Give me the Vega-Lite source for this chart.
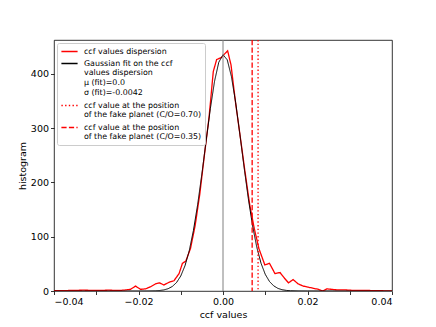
{
  "$schema": "https://vega.github.io/schema/vega-lite/v6.json",
  "width": 338,
  "height": 251,
  "autosize": {"type": "none"},
  "padding": {"left": 54, "top": 40, "right": 44, "bottom": 36},
  "background": "white",
  "config": {
    "font": "DejaVu Sans",
    "view": {"stroke": "black", "strokeWidth": 0.8},
    "axis": {
      "domain": false,
      "grid": false,
      "tickColor": "black",
      "tickSize": 3.5,
      "tickWidth": 0.8,
      "labelColor": "black",
      "labelFont": "DejaVu Sans",
      "labelFontSize": 9.5,
      "labelPadding": 2,
      "titleFont": "DejaVu Sans",
      "titleFontSize": 9.5,
      "titleFontWeight": "normal",
      "titleColor": "black"
    },
    "legend": {
      "labelFont": "DejaVu Sans",
      "labelFontSize": 7.9,
      "labelColor": "black"
    }
  },
  "datasets": {
    "hist": [
      {"x": -0.042, "y": 1}, {"x": -0.039, "y": 0.5}, {"x": -0.036, "y": 1}, {"x": -0.033, "y": 1.5},
      {"x": -0.030, "y": 1}, {"x": -0.027, "y": 1.5}, {"x": -0.0245, "y": 1}, {"x": -0.023, "y": 2},
      {"x": -0.0219, "y": 3}, {"x": -0.0207, "y": 9}, {"x": -0.0195, "y": 3}, {"x": -0.0183, "y": 4},
      {"x": -0.0171, "y": 8}, {"x": -0.016, "y": 13}, {"x": -0.015, "y": 15}, {"x": -0.014, "y": 11},
      {"x": -0.0128, "y": 16}, {"x": -0.0116, "y": 19}, {"x": -0.0104, "y": 32}, {"x": -0.0096, "y": 51},
      {"x": -0.0088, "y": 55}, {"x": -0.0077, "y": 78}, {"x": -0.0066, "y": 120}, {"x": -0.0055, "y": 178},
      {"x": -0.0044, "y": 250}, {"x": -0.0033, "y": 320}, {"x": -0.0023, "y": 404}, {"x": -0.0015, "y": 426},
      {"x": -0.0003, "y": 430}, {"x": 0.0002, "y": 435}, {"x": 0.0011, "y": 442}, {"x": 0.0019, "y": 416},
      {"x": 0.003, "y": 345}, {"x": 0.0041, "y": 283}, {"x": 0.0052, "y": 220}, {"x": 0.0063, "y": 160},
      {"x": 0.0074, "y": 115}, {"x": 0.0085, "y": 78}, {"x": 0.0099, "y": 48}, {"x": 0.011, "y": 51},
      {"x": 0.0123, "y": 32}, {"x": 0.0135, "y": 34}, {"x": 0.0145, "y": 24}, {"x": 0.0155, "y": 15},
      {"x": 0.0166, "y": 21}, {"x": 0.0178, "y": 13}, {"x": 0.019, "y": 9}, {"x": 0.0202, "y": 7},
      {"x": 0.0214, "y": 5}, {"x": 0.0226, "y": 3}, {"x": 0.0236, "y": 0}, {"x": 0.0246, "y": 4},
      {"x": 0.0258, "y": 3}, {"x": 0.027, "y": 2}, {"x": 0.029, "y": 2}, {"x": 0.031, "y": 1},
      {"x": 0.034, "y": 1}, {"x": 0.037, "y": 0.5}, {"x": 0.042, "y": 0}
    ],
    "gauss": [
      {"x": -0.042, "y": 0}, {"x": -0.03, "y": 0}, {"x": -0.02, "y": 0.01}, {"x": -0.018, "y": 0.07},
      {"x": -0.016, "y": 0.39}, {"x": -0.015, "y": 0.91}, {"x": -0.014, "y": 2.0}, {"x": -0.013, "y": 4.2},
      {"x": -0.012, "y": 8.3}, {"x": -0.011, "y": 15.5}, {"x": -0.01, "y": 27.6}, {"x": -0.009, "y": 46.4},
      {"x": -0.008, "y": 73.8}, {"x": -0.007, "y": 111.3}, {"x": -0.006, "y": 159.1}, {"x": -0.005, "y": 215.3},
      {"x": -0.004, "y": 276.1}, {"x": -0.003, "y": 335.4}, {"x": -0.002, "y": 386.1}, {"x": -0.001, "y": 421.0},
      {"x": 0.0, "y": 434.9}, {"x": 0.001, "y": 425.6}, {"x": 0.002, "y": 394.6}, {"x": 0.003, "y": 346.5},
      {"x": 0.004, "y": 288.3}, {"x": 0.005, "y": 227.2}, {"x": 0.006, "y": 169.7}, {"x": 0.007, "y": 120.1},
      {"x": 0.008, "y": 80.5}, {"x": 0.009, "y": 51.1}, {"x": 0.01, "y": 30.7}, {"x": 0.011, "y": 17.5},
      {"x": 0.012, "y": 9.5}, {"x": 0.013, "y": 4.8}, {"x": 0.014, "y": 2.3}, {"x": 0.015, "y": 1.07},
      {"x": 0.016, "y": 0.47}, {"x": 0.018, "y": 0.07}, {"x": 0.02, "y": 0.01}, {"x": 0.03, "y": 0},
      {"x": 0.042, "y": 0}
    ],
    "vlines": [
      {"x": 0.0083, "series": "ccf value at the position|of the fake planet (C/O=0.70)"},
      {"x": 0.0069, "series": "ccf value at the position|of the fake planet (C/O=0.35)"}
    ],
    "zero": [{"x": 0}]
  },
  "layer": [
    {
      "data": {"name": "hist"},
      "transform": [{"calculate": "'ccf values dispersion'", "as": "series"}],
      "mark": {"type": "line", "strokeWidth": 1.3, "clip": true},
      "encoding": {
        "x": {
          "field": "x",
          "type": "quantitative",
          "scale": {"domain": [-0.04, 0.04], "nice": false, "zero": false},
          "axis": {
            "title": "ccf values",
            "values": [-0.04, -0.03, -0.02, -0.01, 0, 0.01, 0.02, 0.03, 0.04],
            "labelExpr": "replace(format(datum.value, '.2f'), '-', '\u2212')",
            "titlePadding": 3
          }
        },
        "y": {
          "field": "y",
          "type": "quantitative",
          "scale": {"domain": [0, 462], "nice": false},
          "axis": {
            "title": "histogram",
            "values": [0, 100, 200, 300, 400],
            "titlePadding": 3
          }
        },
        "color": {
          "field": "series",
          "type": "nominal",
          "scale": {
            "domain": [
              "ccf values dispersion",
              "Gaussian fit on the ccf|values dispersion|μ (fit)=0.0|σ (fit)=-0.0042",
              "ccf value at the position|of the fake planet (C/O=0.70)",
              "ccf value at the position|of the fake planet (C/O=0.35)"
            ],
            "range": ["#ff0000", "#000000", "#ff0000", "#ff0000"]
          },
          "legend": {
            "title": null,
            "orient": "top-left",
            "offset": 3,
            "padding": 3,
            "fillColor": "rgba(255,255,255,0.8)",
            "strokeColor": "#cccccc",
            "cornerRadius": 2,
            "symbolType": "M-1.8,0H1.8",
            "symbolSize": 81,
            "symbolOffset": 4,
            "symbolStrokeWidth": 1.3,
            "labelOffset": 9,
            "labelLimit": 300,
            "rowPadding": 2,
            "labelExpr": "split(datum.label, '|')"
          }
        },
        "strokeDash": {
          "field": "series",
          "type": "nominal",
          "scale": {
            "domain": [
              "ccf values dispersion",
              "Gaussian fit on the ccf|values dispersion|μ (fit)=0.0|σ (fit)=-0.0042",
              "ccf value at the position|of the fake planet (C/O=0.70)",
              "ccf value at the position|of the fake planet (C/O=0.35)"
            ],
            "range": [[1, 0], [1, 0], [1.4, 2.3], [5.2, 2.3]]
          },
          "legend": {
            "title": null,
            "orient": "top-left",
            "offset": 3,
            "padding": 3,
            "fillColor": "rgba(255,255,255,0.8)",
            "strokeColor": "#cccccc",
            "cornerRadius": 2,
            "symbolType": "M-1.8,0H1.8",
            "symbolSize": 81,
            "symbolOffset": 4,
            "symbolStrokeWidth": 1.3,
            "labelOffset": 9,
            "labelLimit": 300,
            "rowPadding": 2,
            "labelExpr": "split(datum.label, '|')"
          }
        }
      }
    },
    {
      "data": {"name": "gauss"},
      "transform": [{"calculate": "'Gaussian fit on the ccf|values dispersion|μ (fit)=0.0|σ (fit)=-0.0042'", "as": "series"}],
      "mark": {"type": "line", "strokeWidth": 1.0, "clip": true},
      "encoding": {
        "x": {"field": "x", "type": "quantitative"},
        "y": {"field": "y", "type": "quantitative"},
        "color": {"field": "series", "type": "nominal"},
        "strokeDash": {"field": "series", "type": "nominal"}
      }
    },
    {
      "data": {"name": "zero"},
      "mark": {"type": "rule", "color": "#808080", "strokeWidth": 1.0},
      "encoding": {"x": {"field": "x", "type": "quantitative"}}
    },
    {
      "data": {"name": "vlines"},
      "mark": {"type": "rule", "strokeWidth": 1.3},
      "encoding": {
        "x": {"field": "x", "type": "quantitative"},
        "color": {"field": "series", "type": "nominal"},
        "strokeDash": {"field": "series", "type": "nominal"}
      }
    }
  ]
}
